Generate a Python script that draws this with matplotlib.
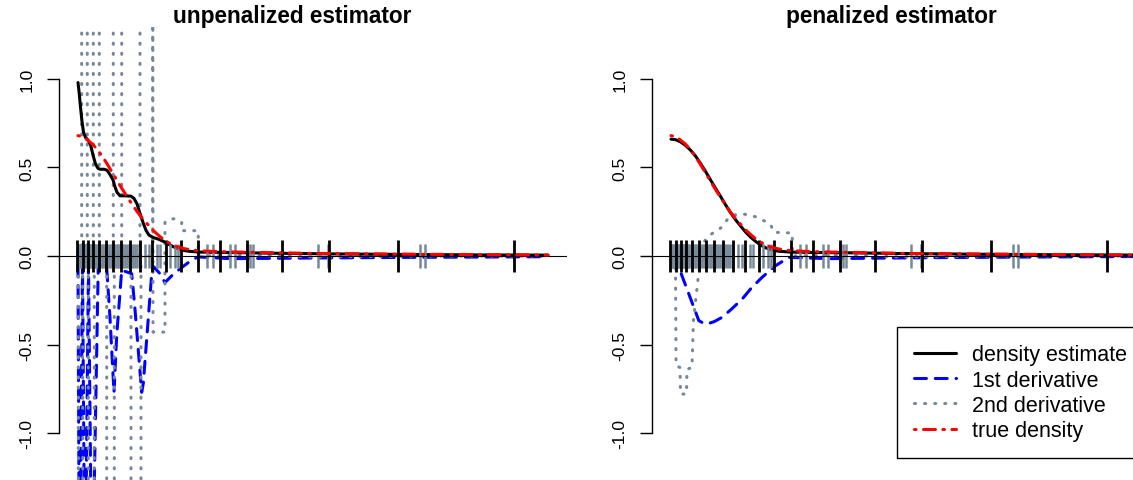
import numpy as np
import matplotlib.pyplot as plt
from matplotlib.lines import Line2D

plt.rcParams['font.family'] = ['Liberation Sans', 'DejaVu Sans']

nan = np.nan

# observations (grey rug) and spline knots (black rug)
obs = [0.0, 0.013, 0.038, 0.064, 0.089, 0.128, 0.153, 0.179, 0.204, 0.243,
       0.281, 0.306, 0.332, 0.370, 0.408, 0.434, 0.472, 0.511, 0.536, 0.574,
       0.613, 0.651, 0.689, 0.715, 0.753, 0.791, 0.830, 0.868, 0.906, 0.945,
       0.983, 1.021, 1.072, 1.111, 1.149, 1.200, 1.251, 1.302, 1.353, 1.404,
       1.455, 1.519, 1.583, 1.711, 1.820, 2.009, 2.093, 2.349, 2.476, 2.561,
       3.286, 3.454, 3.881, 4.008, 4.307, 4.391, 4.475, 6.135, 6.390, 8.731,
       8.859]
knots = [-0.018, 0.120, 0.263, 0.391, 0.544, 0.715, 0.901, 1.098, 1.328,
         1.583, 1.882, 2.247, 2.622, 3.071, 3.625, 4.322, 5.200, 6.416,
         8.177, 11.139]

# true density
x_true = [0.0, 0.115, 0.243, 0.370, 0.498, 0.625, 0.753, 0.881, 1.008,
          1.136, 1.264, 1.391, 1.519, 1.647, 1.774, 1.902, 2.030, 2.157,
          2.285, 2.413, 2.540, 2.745, 3.051, 3.562, 4.583, 5.859, 7.902,
          9.944, 12.0]
y_true = [0.68, 0.675, 0.655, 0.632, 0.60, 0.562, 0.517, 0.47, 0.422,
          0.376, 0.332, 0.288, 0.248, 0.212, 0.18, 0.148, 0.122, 0.098,
          0.079, 0.063, 0.051, 0.04, 0.03, 0.025, 0.02, 0.015, 0.011,
          0.008, 0.005]

# unpenalized estimator
x_unpen = [0.0, 0.026, 0.064, 0.102, 0.140, 0.191, 0.255, 0.319, 0.383,
           0.447, 0.511, 0.562, 0.664, 0.740, 0.817, 0.894, 0.945, 0.996,
           1.072, 1.200, 1.353, 1.430, 1.506, 1.583, 1.659, 1.736, 1.813,
           1.915, 2.042, 2.170, 2.349, 2.502, 2.655, 2.859, 3.115, 3.881,
           4.902, 6.434, 8.221, 10.263, 12.0]
dens_unpen = [0.98, 0.93, 0.84, 0.76, 0.70, 0.67, 0.655, 0.63, 0.57,
              0.52, 0.495, 0.49, 0.49, 0.485, 0.46, 0.43, 0.39, 0.36,
              0.34, 0.34, 0.338, 0.325, 0.295, 0.24, 0.19, 0.145, 0.118,
              0.105, 0.096, 0.084, 0.062, 0.045, 0.033, 0.026, 0.022, 0.020,
              0.016, 0.012, 0.009, 0.006, 0.005]

x_d1_unpen = [0.0, 0.038, 0.115, 0.179, 0.268, 0.357, 0.518, 0.728, 0.817,
              0.919, 0.988, 1.116, 1.371, 1.455, 1.626, 1.667, 1.882, 1.927,
              2.093, 2.221, 2.400, 2.647, 2.859, 3.064, 3.881, 5.668, 8.221,
              12.0]
d1_unpen = [-0.05, -2.0, -0.05, -2.0, -0.05, -2.0, -0.05, -0.05, -0.35,
            -0.77, -0.45, -0.08, -0.10, -0.30, -0.77, -0.72, -0.10, -0.06,
            -0.10, -0.15, -0.11, -0.065, -0.03, -0.005, -0.015, -0.012,
            -0.008, -0.004]

x_d2_unpen = [0.008, 0.008, nan, 0.094, 0.094, nan, 0.120, 0.120, nan,
              0.237, 0.237, nan, 0.263, 0.263, nan, 0.391, 0.391, nan,
              0.416, 0.416, nan, 0.544, 0.544, nan, 0.733, 0.733, nan,
              0.901, 0.901, nan, 0.927, 0.927, nan, 1.116, 1.116, nan,
              1.353, 1.353, nan, 1.583, 1.583, nan, 1.608, 1.608, nan,
              0.0, 1.907, 1.907, 1.915, 2.221, 2.221, 2.349, 2.476, 2.604,
              2.647, 2.647, 3.071, 3.071, 4.0, 6.0, 9.0, 12.0]
d2_unpen = [0.0, -3.0, nan, 0.0, 3.0, nan, 0.0, -3.0, nan,
            0.0, 3.0, nan, 0.0, -3.0, nan, 0.0, 3.0, nan,
            0.0, -3.0, nan, 0.0, 3.0, nan, 0.0, -3.0, nan,
            0.0, 3.0, nan, 0.0, -3.0, nan, 0.0, 3.0, nan,
            0.0, -3.0, nan, 0.0, 3.0, nan, 0.0, -3.0, nan,
            0.0, 0.0, 3.0, -0.43, -0.43, 0.19, 0.21, 0.21, 0.20,
            0.19, 0.143, 0.143, 0.0, 0.005, -0.005, 0.0, 0.0]

# penalized estimator
x_pen = [0.0, 0.115, 0.243, 0.370, 0.498, 0.625, 0.753, 0.881, 1.008,
         1.136, 1.264, 1.391, 1.519, 1.647, 1.774, 1.902, 2.030, 2.157,
         2.285, 2.413, 2.540, 2.745, 3.051, 3.562, 4.583, 5.859, 7.902,
         9.944, 12.0]
dens_pen = [0.66, 0.657, 0.645, 0.625, 0.598, 0.565, 0.523, 0.478, 0.43,
            0.383, 0.337, 0.29, 0.245, 0.205, 0.17, 0.136, 0.107, 0.083,
            0.062, 0.047, 0.036, 0.027, 0.022, 0.02, 0.018, 0.014, 0.01,
            0.007, 0.005]

x_d1_pen = [0.0, 0.115, 0.243, 0.414, 0.549, 0.710, 0.830, 0.925, 1.111,
            1.308, 1.545, 1.818, 2.055, 2.328, 2.668, 3.008, 3.307, 4.073,
            5.349, 7.391, 9.944, 12.0]
d1_pen = [0.0, -0.03, -0.09, -0.19, -0.27, -0.365, -0.38, -0.384, -0.37,
          -0.346, -0.30, -0.243, -0.18, -0.12, -0.055, -0.008, -0.01, -0.015,
          -0.012, -0.008, -0.005, -0.003]

x_d2_pen = [0.0, 0.115, 0.128, 0.230, 0.243, 0.396, 0.408, 0.536, 0.574,
            0.710, 0.797, 0.837, 0.924, 1.093, 1.220, 1.307, 1.435, 1.603,
            1.859, 2.157, 2.413, 2.540, 2.624, 3.094, 3.102, 4.072, 5.859,
            8.412, 12.0]
d2_pen = [-0.02, -0.05, -0.62, -0.63, -0.78, -0.78, -0.64, -0.63, -0.36,
          -0.09, -0.02, 0.077, 0.105, 0.134, 0.15, 0.165, 0.205, 0.232,
          0.237, 0.222, 0.195, 0.18, 0.134, 0.13, 0.0, 0.005, -0.005,
          0.0, 0.0]

y_ticks = [-1.0, -0.5, 0.0, 0.5, 1.0]
legend_labels = ['density estimate', '1st derivative', '2nd derivative',
                 'true density']

# line styles
LW = 2.2
GREY = '#778899'
sty_dens = dict(color='black', lw=LW, solid_capstyle='round')
sty_d1 = dict(color='blue', lw=LW, dashes=(3.9, 2.9), dash_capstyle='round')
sty_d2 = dict(color=GREY, lw=LW, dashes=(0.35, 2.95), dash_capstyle='round')
sty_true = dict(color='red', lw=LW, dashes=(0.5, 2.45, 3.9, 2.45),
                dash_capstyle='round')

W, H = 1133, 481
fig = plt.figure(figsize=(W / 100, H / 100), dpi=100)

ax_b, ax_t = 486.4, 27.6
ax_w = 507.6
ax1 = fig.add_axes([59.2 / W, 1 - ax_b / H, ax_w / W, (ax_b - ax_t) / H])
ax2 = fig.add_axes([652.2 / W, 1 - ax_b / H, ax_w / W, (ax_b - ax_t) / H])


def panel(ax, xd, d, x1, d1, x2, d2):
    ax.plot(xd, d, zorder=3, **sty_dens)
    ax.plot(x1, d1, zorder=2, **sty_d1)
    ax.plot(x2, d2, zorder=2, **sty_d2)
    ax.vlines(obs, -0.07, 0.07, color=GREY, lw=1.8, zorder=4)
    ax.vlines(knots, -0.088, 0.088, color='black', lw=2.0, zorder=5)
    ax.axhline(0, color='black', lw=0.8, zorder=6)
    ax.plot(x_true, y_true, zorder=7, **sty_true)

    ax.set_xlim(-0.48, 12.48)
    ax.set_ylim(-1.296, 1.296)
    for s in ['top', 'right', 'bottom']:
        ax.spines[s].set_visible(False)
    ax.spines['left'].set_bounds(-1.0, 1.0)
    ax.spines['left'].set_linewidth(1.0)
    ax.set_xticks([])
    ax.set_yticks(y_ticks, ['%.1f' % v for v in y_ticks])
    ax.tick_params(axis='y', direction='out', length=9, width=1.0,
                   pad=9, labelsize=12.5)
    for lab in ax.get_yticklabels():
        lab.set_rotation(90)
        lab.set_va('center')
        lab.set_ha('right')


panel(ax1, x_unpen, dens_unpen, x_d1_unpen, d1_unpen, x_d2_unpen, d2_unpen)
panel(ax2, x_pen, dens_pen, x_d1_pen, d1_pen, x_d2_pen, d2_pen)

fig.text(292 / W, 1 - 17 / H, 'unpenalized estimator', ha='center',
         va='center', fontsize=16.3, fontweight='bold')
fig.text(891 / W, 1 - 17 / H, 'penalized estimator', ha='center',
         va='center', fontsize=16.3, fontweight='bold')

handles = [Line2D([], [], **sty_dens), Line2D([], [], **sty_d1),
           Line2D([], [], **sty_d2), Line2D([], [], **sty_true)]
leg = ax2.legend(handles, legend_labels, loc='upper left',
                 bbox_to_anchor=(897 / W, 1 - 328 / H),
                 bbox_transform=fig.transFigure, borderaxespad=0,
                 fontsize=15.5, handlelength=1.95, handletextpad=0.74,
                 labelspacing=0.2, borderpad=0.8, fancybox=False,
                 framealpha=1, edgecolor='black')
leg.get_frame().set_linewidth(1.0)

fig.savefig('out.png', dpi=100)
